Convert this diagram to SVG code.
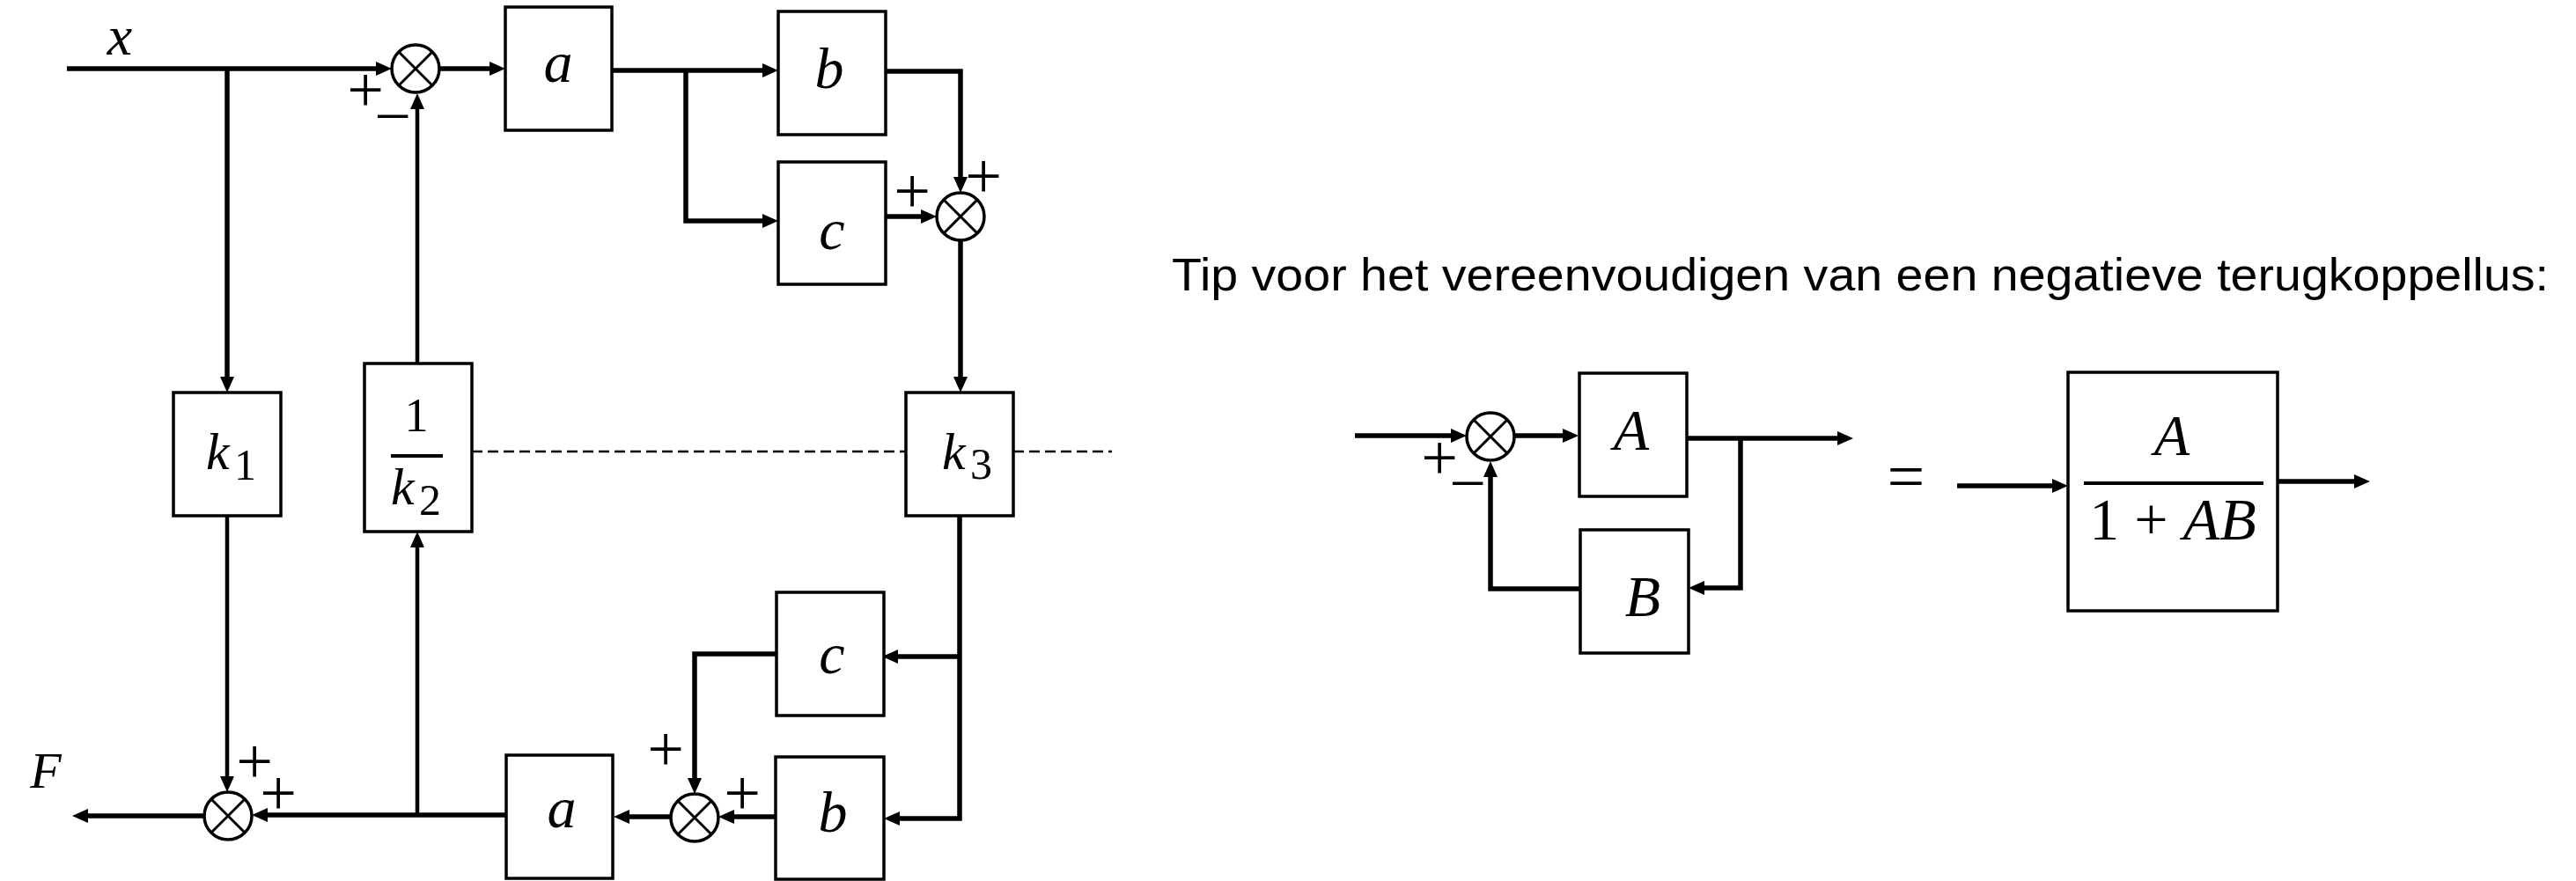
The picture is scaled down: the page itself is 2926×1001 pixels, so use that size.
<svg xmlns="http://www.w3.org/2000/svg" width="2926" height="1001" viewBox="0 0 2926 1001">
<defs>
<style>
.bx{fill:#fff;stroke:#000;stroke-width:3.5}
.sm{fill:#fff;stroke:#000;stroke-width:3.5}
.xl{stroke:#000;stroke-width:3}
.cn{fill:none;stroke:#000;stroke-width:5.5;stroke-linejoin:miter}
.th{stroke-width:4.5}
.ar{marker-end:url(#ah)}
.ds{fill:none;stroke:#000;stroke-width:2.5;stroke-dasharray:12 6}
.mv{font-family:"Liberation Serif",serif;font-style:italic;fill:#000}
.md{font-family:"Liberation Serif",serif;fill:#000}
.pm{font-family:"Liberation Serif",serif;font-size:74px;fill:#000;text-anchor:middle}
.tt{font-family:"Liberation Sans",sans-serif;font-size:52px;fill:#000}
.fb{stroke:#000;stroke-width:4}
</style>
<marker id="ah" viewBox="0 0 18 16" markerWidth="18" markerHeight="16" refX="8" refY="8" orient="auto" markerUnits="userSpaceOnUse">
<path d="M0,0 L18,8 L0,16 z" fill="#000"/>
</marker>
</defs>
<rect width="2926" height="1001" fill="#fff"/>

<g id="connectors">
<path class="cn ar" d="M76,78 H435"/>
<path class="cn ar" d="M258,78 V436"/>
<path class="cn ar" d="M499,78 H564"/>
<path class="cn th ar" d="M474,413 V116"/>
<path class="cn ar" d="M695,80 H874"/>
<path class="cn ar" d="M779,80 V251 H874"/>
<path class="cn ar" d="M1006,81 H1091 V209"/>
<path class="cn ar" d="M1006,246 H1054"/>
<path class="cn ar" d="M1091,273 V436"/>
<path class="cn ar" d="M1090,586 V930 H1014"/>
<path class="cn ar" d="M1090,746 H1012"/>
<path class="cn ar" d="M882,743 H789 V892"/>
<path class="cn ar" d="M881,928 H826"/>
<path class="cn ar" d="M762,928 H707"/>
<path class="cn ar" d="M575,926 H296"/>
<path class="cn th ar" d="M474,926 V614"/>
<path class="cn th ar" d="M258,586 V890"/>
<path class="cn ar" d="M232,927 H92"/>
<path class="ds" d="M536,513 H1029"/>
<path class="ds" d="M1151,513 H1263"/>
<path class="cn ar" d="M1539,495 H1656"/>
<path class="cn ar" d="M1720,495 H1783"/>
<path class="cn ar" d="M1916,498 H2095"/>
<path class="cn ar" d="M1977,498 V668 H1928"/>
<path class="cn ar" d="M1795,669 H1693 V534"/>
<path class="cn ar" d="M2223,552 H2339"/>
<path class="cn ar" d="M2587,547 H2682"/>
</g>

<g id="sum1"><circle class="sm" cx="472" cy="78" r="27"/><path class="xl" d="M453,59 L491,97 M491,59 L453,97"/></g>
<g id="sum2"><circle class="sm" cx="1091" cy="246" r="27"/><path class="xl" d="M1072,227 L1110,265 M1110,227 L1072,265"/></g>
<g id="sum3"><circle class="sm" cx="259" cy="927" r="27"/><path class="xl" d="M240,908 L278,946 M278,908 L240,946"/></g>
<g id="sum4"><circle class="sm" cx="789" cy="929" r="27"/><path class="xl" d="M770,910 L808,948 M808,910 L770,948"/></g>
<g id="sum5"><circle class="sm" cx="1693" cy="496" r="27"/><path class="xl" d="M1674,477 L1712,515 M1712,477 L1674,515"/></g>

<g id="box-a1"><rect class="bx" x="574" y="8" width="121" height="140"/><text class="mv" x="634" y="93" font-size="66" text-anchor="middle">a</text></g>
<g id="box-b1"><rect class="bx" x="884" y="13" width="122" height="140"/><text class="mv" x="942" y="100" font-size="66" text-anchor="middle">b</text></g>
<g id="box-c1"><rect class="bx" x="884" y="184" width="122" height="139"/><text class="mv" x="945" y="283" font-size="66" text-anchor="middle">c</text></g>
<g id="box-k1"><rect class="bx" x="197" y="446" width="122" height="140"/><text class="mv" x="234" y="533" font-size="60">k</text><text class="md" x="266" y="545" font-size="50">1</text></g>
<g id="box-k2"><rect class="bx" x="414" y="413" width="122" height="191"/><text class="md" x="473" y="490" font-size="54" text-anchor="middle">1</text><line class="fb" x1="444" y1="518" x2="503" y2="518"/><text class="mv" x="444" y="573" font-size="60">k</text><text class="md" x="476" y="585" font-size="50">2</text></g>
<g id="box-k3"><rect class="bx" x="1029" y="446" width="122" height="140"/><text class="mv" x="1070" y="533" font-size="60">k</text><text class="md" x="1102" y="544" font-size="50">3</text></g>
<g id="box-c2"><rect class="bx" x="882" y="673" width="122" height="140"/><text class="mv" x="945" y="765" font-size="66" text-anchor="middle">c</text></g>
<g id="box-b2"><rect class="bx" x="881" y="860" width="123" height="139"/><text class="mv" x="946" y="945" font-size="66" text-anchor="middle">b</text></g>
<g id="box-a2"><rect class="bx" x="575" y="858" width="121" height="140"/><text class="mv" x="638" y="940" font-size="66" text-anchor="middle">a</text></g>

<g id="labels">
<text class="mv" x="136" y="62" font-size="64" text-anchor="middle">x</text>
<text class="mv" x="52" y="895" font-size="58" text-anchor="middle">F</text>
<text class="pm" x="415" y="127">+</text>
<text class="pm" x="446" y="157">−</text>
<text class="pm" x="1036" y="242">+</text>
<text class="pm" x="1117" y="225">+</text>
<text class="pm" x="289" y="890">+</text>
<text class="pm" x="316" y="926">+</text>
<text class="pm" x="756" y="876">+</text>
<text class="pm" x="843" y="926">+</text>
<text class="pm" x="1635" y="545">+</text>
<text class="pm" x="1667" y="574">−</text>
<text class="md" x="2165" y="567" font-size="76" text-anchor="middle">=</text>
<text class="tt" x="1331" y="330" textLength="1564" lengthAdjust="spacingAndGlyphs">Tip voor het vereenvoudigen van een negatieve terugkoppellus:</text>
</g>

<g id="box-A"><rect class="bx" x="1794" y="424" width="122" height="140"/><text class="mv" x="1853" y="511" font-size="66" text-anchor="middle">A</text></g>
<g id="box-B"><rect class="bx" x="1795" y="602" width="123" height="140"/><text class="mv" x="1866" y="700" font-size="66" text-anchor="middle">B</text></g>
<g id="box-closed"><rect class="bx" x="2349" y="423" width="238" height="271"/><text class="mv" x="2467" y="517" font-size="66" text-anchor="middle">A</text><line class="fb" x1="2367" y1="549" x2="2571" y2="549"/><text class="md" x="2468" y="613" font-size="68" text-anchor="middle">1 + <tspan font-style="italic">AB</tspan></text></g>
</svg>
